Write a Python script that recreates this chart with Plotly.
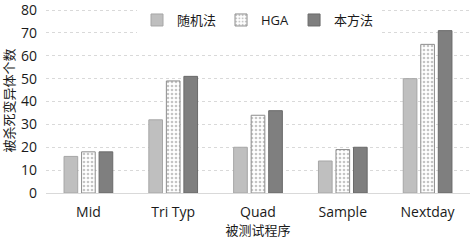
import plotly.graph_objects as go

categories = ["Mid", "Tri Typ", "Quad", "Sample", "Nextday"]
series_names = ["随机法", "HGA", "本方法"]
random_vals = [16, 32, 20, 14, 50]
hga_vals = [18, 49, 34, 19, 65]
ours_vals = [18, 51, 36, 20, 71]
y_ticks = [0, 10, 20, 30, 40, 50, 60, 70, 80]

font_fam = "Open Sans, Noto Sans CJK SC, sans-serif"

fig = go.Figure()
fig.add_trace(go.Bar(
    name=series_names[0], x=categories, y=random_vals,
    marker=dict(color="#bfbfbf", line=dict(color="#a6a6a6", width=1)),
))
fig.add_trace(go.Bar(
    name=series_names[1], x=categories, y=hga_vals,
    marker=dict(color="#ffffff", line=dict(color="#8c8c8c", width=1),
                pattern=dict(shape=".", fgcolor="#8c8c8c", bgcolor="#ffffff",
                             size=4, solidity=0.35)),
))
fig.add_trace(go.Bar(
    name=series_names[2], x=categories, y=ours_vals,
    marker=dict(color="#7f7f7f", line=dict(color="#6a6a6a", width=1)),
))

fig.update_layout(
    width=472, height=240,
    margin=dict(l=46, r=2, t=8, b=47),
    paper_bgcolor="white", plot_bgcolor="white",
    barmode="group", bargap=0.38, bargroupgap=0.22,
    font=dict(family=font_fam, size=13, color="#1a1a1a"),
    showlegend=True,
    legend=dict(orientation="h", x=0.5, xanchor="center", y=0.935, yanchor="middle",
                bgcolor="white", font=dict(size=13), itemwidth=30,
                traceorder="normal", borderwidth=0),
)
fig.update_xaxes(
    automargin=False,
    showline=True, linecolor="#d9d9d9", linewidth=1,
    ticks="", showgrid=False, ticklabelstandoff=6,
    title=dict(text="被测试程序", font=dict(size=13), standoff=6),
    tickfont=dict(size=14),
)
fig.update_yaxes(
    automargin=False,
    range=[0, 80.9], tickvals=y_ticks, showgrid=True,
    gridcolor="#d9d9d9", griddash="dot", gridwidth=1,
    zeroline=False, showline=False, ticklabelstandoff=8,
    ticklabeloverflow="allow",
    tickfont=dict(size=14),
    title=dict(text="被杀死变异体个数", font=dict(size=13), standoff=5),
)

fig.write_html(
    "out.html",
    config={"displayModeBar": False},
    post_script="document.body.style.margin='0';document.body.style.overflow='hidden';",
)
